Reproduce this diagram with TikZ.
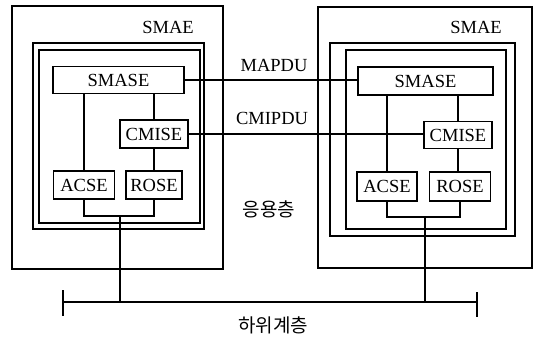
\documentclass[tikz,border=0pt]{standalone}
\usepackage{fontspec}
\setmainfont{Liberation Serif}
\newfontfamily\krfont{Noto Sans CJK KR}
\begin{document}
\begin{tikzpicture}[x=1pt,y=-1pt,
  frame/.style={draw, line width=1.2pt, inner sep=0pt},
  entity/.style={draw, line width=1.2pt, inner sep=0pt, font=\fontsize{18.5}{18.5}\selectfont},
  link/.style={line width=1.5pt},
  lbl/.style={font=\fontsize{18.5}{18.5}\selectfont, inner sep=0pt},
  klbl/.style={font=\krfont\fontsize{19}{19}\selectfont, inner sep=0pt}]
\useasboundingbox (0,0) rectangle (534,337);

% ---------- left SMAE ----------
\node[frame, minimum width=211pt, minimum height=263pt] (outL) at (117.5,137.5) {};
\node[frame, minimum width=171pt, minimum height=186pt] (midL) at (118.5,136) {};
\node[frame, minimum width=161pt, minimum height=173pt] (inL) at (119.5,136.5) {};
\node[lbl] (smaeL) at (168,27) {SMAE};
\node[entity, minimum width=131pt, minimum height=27pt] (smaseL) at (118.5,80) {SMASE};
\node[entity, minimum width=68pt, minimum height=28pt] (cmiseL) at (154,134) {CMISE};
\node[entity, minimum width=61pt, minimum height=28pt] (acseL) at (84,185) {ACSE};
\node[entity, minimum width=56pt, minimum height=28pt] (roseL) at (154,185) {ROSE};

% ---------- right SMAE ----------
\node[frame, minimum width=214pt, minimum height=261pt] (outR) at (425,137.5) {};
\node[frame, minimum width=185pt, minimum height=193pt] (midR) at (422.5,139.5) {};
\node[frame, minimum width=160pt, minimum height=179pt] (inR) at (426,139.5) {};
\node[lbl] (smaeR) at (476,27) {SMAE};
\node[entity, minimum width=135pt, minimum height=28pt] (smaseR) at (425.5,81) {SMASE};
\node[entity, minimum width=68pt, minimum height=27pt] (cmiseR) at (458,135) {CMISE};
\node[entity, minimum width=60pt, minimum height=29pt] (acseR) at (387,186.5) {ACSE};
\node[entity, minimum width=61pt, minimum height=29pt] (roseR) at (460,186.5) {ROSE};

% ---------- labels ----------
\node[lbl] (mapdu) at (274,65) {MAPDU};
\node[lbl] (cmipdu) at (272,118) {CMIPDU};
\node[klbl] (app) at (269,209) {응용층};
\node[klbl] (lower) at (273,325.5) {하위계층};

% ---------- internal links ----------
\draw[link] (smaseL.south -| acseL.north) -- (acseL.north);
\draw[link] (smaseL.south -| cmiseL.north) -- (cmiseL.north);
\draw[link] (cmiseL.south) -- (cmiseL.south |- roseL.north);
\draw[link] (smaseR.south -| acseR.north) -- (acseR.north);
\draw[link] (smaseR.south -| cmiseR.north) -- (cmiseR.north);
\draw[link] (cmiseR.south) -- (cmiseR.south |- roseR.north);

% ---------- brackets ----------
\coordinate (brL) at (120,216);
\coordinate (brR) at (425,217);
\draw[link] (acseL.south) -- (acseL.south |- brL) -- (roseL.south |- brL) -- (roseL.south);
\draw[link] (acseR.south) -- (acseR.south |- brR) -- (roseR.south |- brR) -- (roseR.south);

% ---------- bus ----------
\coordinate (busA) at (63,302);
\coordinate (busB) at (477,302);
\coordinate (tickAt) at (63,290);
\coordinate (tickAb) at (63,316);
\coordinate (tickBt) at (477,292);
\coordinate (tickBb) at (477,317);
\draw[link] (busA) -- (busB);
\draw[link] (tickAt) -- (tickAb);
\draw[link] (tickBt) -- (tickBb);
\draw[link] (brL) -- (brL |- busA);
\draw[link] (brR) -- (brR |- busA);

% ---------- peer links ----------
\draw[link] (smaseL.east) -- (smaseL.east -| smaseR.west);
\draw[link] (cmiseL.east) -- (cmiseL.east -| cmiseR.west);
\end{tikzpicture}
\end{document}
